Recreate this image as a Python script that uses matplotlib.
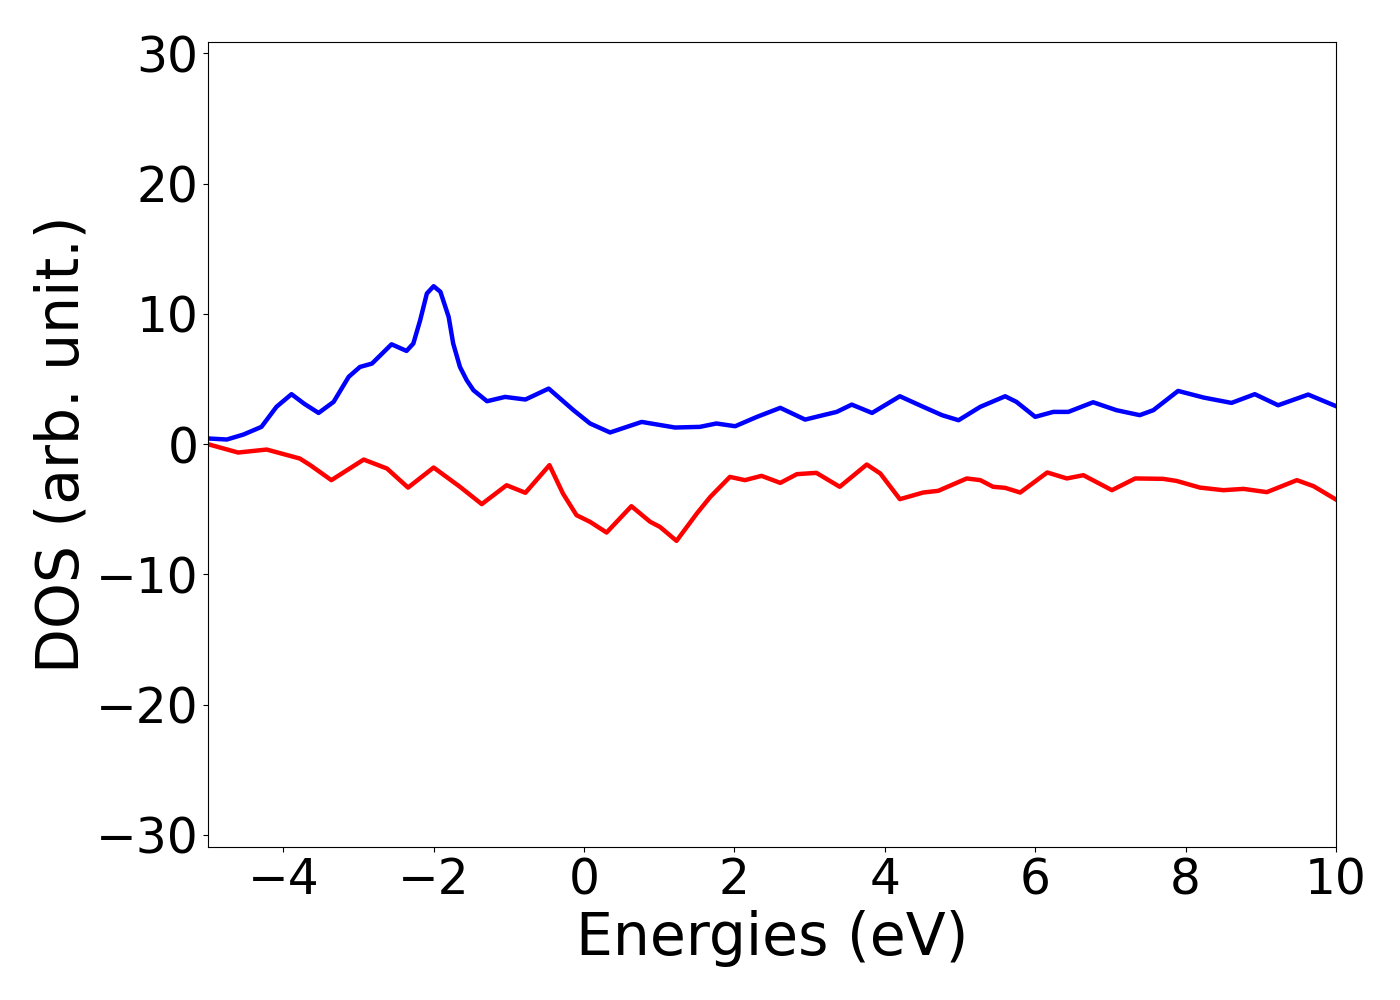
import matplotlib
matplotlib.use("Agg")
import matplotlib.pyplot as plt

# Spin-up DOS (blue)
up_energy = [-5.0, -4.75, -4.53, -4.29, -4.09, -3.89, -3.72, -3.53, -3.33, -3.13, -2.98, -2.82,
             -2.56, -2.36, -2.27, -2.18, -2.09, -2.0, -1.91, -1.80, -1.74, -1.65, -1.56, -1.47,
             -1.29, -1.05, -0.78, -0.47, -0.14, 0.08, 0.346, 0.767, 1.21, 1.54, 1.76, 2.01,
             2.30, 2.61, 2.94, 3.23, 3.36, 3.56, 3.83, 4.20, 4.51, 4.76, 4.98, 5.27, 5.60,
             5.75, 6.0, 6.24, 6.44, 6.77, 7.08, 7.39, 7.57, 7.90, 8.24, 8.61, 8.92, 9.23,
             9.63, 10.0]
up_dos = [0.44, 0.36, 0.74, 1.33, 2.87, 3.84, 3.1, 2.4, 3.25, 5.17, 5.93, 6.19,
          7.67, 7.16, 7.73, 9.5, 11.57, 12.13, 11.7, 9.77, 7.73, 5.93, 4.91, 4.14,
          3.3, 3.63, 3.43, 4.27, 2.61, 1.59, 0.9, 1.71, 1.28, 1.33, 1.59, 1.38,
          2.10, 2.79, 1.89, 2.30, 2.48, 3.04, 2.4, 3.68, 2.87, 2.23, 1.84, 2.87, 3.68,
          3.25, 2.10, 2.48, 2.48, 3.22, 2.61, 2.23, 2.61, 4.09, 3.58, 3.17, 3.84, 2.99,
          3.81, 2.92]

# Spin-down DOS (red)
down_energy = [-5.0, -4.60, -4.22, -3.78, -3.64, -3.36, -2.93, -2.62, -2.34, -2.0, -1.65, -1.36,
               -1.03, -0.78, -0.46, -0.28, -0.10, 0.08, 0.30, 0.63, 0.88, 1.01, 1.23, 1.50,
               1.68, 1.94, 2.14, 2.36, 2.61, 2.83, 3.09, 3.40, 3.76, 3.94, 4.20, 4.51, 4.71,
               5.09, 5.27, 5.44, 5.60, 5.80, 6.16, 6.42, 6.64, 7.02, 7.33, 7.70, 7.88, 8.19,
               8.50, 8.77, 9.08, 9.48, 9.70, 10.0]
down_dos = [0.0, -0.64, -0.41, -1.1, -1.61, -2.76, -1.18, -1.87, -3.33, -1.79, -3.27, -4.6,
            -3.15, -3.73, -1.61, -3.79, -5.45, -5.96, -6.78, -4.76, -5.96, -6.35, -7.42, -5.32,
            -4.04, -2.51, -2.76, -2.43, -2.97, -2.30, -2.20, -3.27, -1.56, -2.25, -4.22, -3.71, -3.58,
            -2.63, -2.76, -3.27, -3.35, -3.71, -2.17, -2.63, -2.38, -3.53, -2.63, -2.66, -2.82, -3.33,
            -3.53, -3.43, -3.68, -2.76, -3.22, -4.25]

fig = plt.figure(figsize=(14, 10), dpi=100)
ax = fig.add_axes([0.1486, 0.1533, 0.8057, 0.8050])
ax.plot(up_energy, up_dos, color="blue", linewidth=3.2, solid_joinstyle="round")
ax.plot(down_energy, down_dos, color="red", linewidth=3.2, solid_joinstyle="round")
ax.set_xlim(-5, 10)
ax.set_ylim(-30.9, 30.9)
ax.set_xticks([-4, -2, 0, 2, 4, 6, 8, 10])
ax.set_yticks([-30, -20, -10, 0, 10, 20, 30])
ax.tick_params(labelsize=35)
ax.set_xlabel("Energies (eV)", fontsize=42)
ax.set_ylabel("DOS (arb. unit.)", fontsize=42)
fig.savefig("out.png", dpi=100)
